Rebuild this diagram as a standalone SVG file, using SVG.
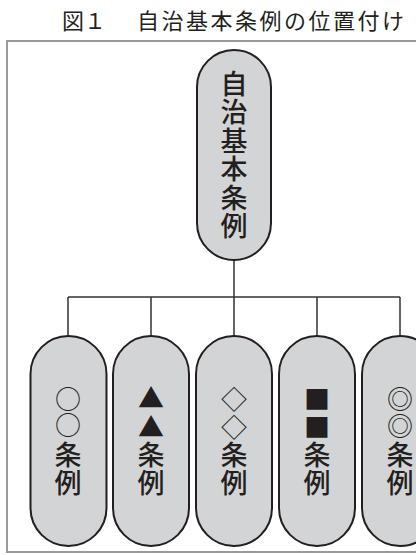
<svg xmlns="http://www.w3.org/2000/svg" width="416" height="555" viewBox="0 0 416 555">
<style>
.pill{fill:#d3d4d6;stroke:#231f20;stroke-width:2}
.lbl{font-family:"Noto Sans CJK JP","Noto Sans CJK SC",sans-serif;font-size:27px;font-weight:500;fill:#231f20;text-anchor:middle;dominant-baseline:central}
.sym{font-family:"Noto Sans CJK JP","Noto Sans CJK SC",sans-serif;font-size:26px;fill:#231f20;text-anchor:middle;dominant-baseline:central}
.title{font-family:"Noto Sans CJK JP","Noto Sans CJK SC",sans-serif;font-size:22px;fill:#231f20}
.conn{stroke:#333;stroke-width:1.5;fill:none}
</style>
<rect width="416" height="555" fill="#fff"/>
<text class="title" x="62" y="29">図１</text>
<text class="title" x="137" y="29" letter-spacing="2.5">自治基本条例の位置付け</text>
<rect x="7" y="41" width="420" height="511" fill="none" stroke="#999" stroke-width="2"/>
<g id="connectors">
<path class="conn" d="M234 260V297M68 297H400M68 297V337M151 297V337M234 297V337M317 297V337M400 297V337"/>
</g>
<g id="top">
<rect class="pill" x="197" y="50" width="74" height="210" rx="37"/>
<text class="lbl" x="234" y="82">自</text>
<text class="lbl" x="234" y="110.5">治</text>
<text class="lbl" x="234" y="139">基</text>
<text class="lbl" x="234" y="167.5">本</text>
<text class="lbl" x="234" y="196">条</text>
<text class="lbl" x="234" y="224.5">例</text>
</g>
<g id="n1">
<rect class="pill" x="30.5" y="336" width="76" height="210" rx="38"/>
<text class="sym" x="68" y="397">○</text>
<text class="sym" x="68" y="423">○</text>
<text class="lbl" x="68" y="453">条</text>
<text class="lbl" x="68" y="481">例</text>
</g>
<g id="n2">
<rect class="pill" x="113" y="336" width="76" height="210" rx="38"/>
<text class="sym" x="151" y="396">▲</text>
<text class="sym" x="151" y="425">▲</text>
<text class="lbl" x="151" y="453">条</text>
<text class="lbl" x="151" y="481">例</text>
</g>
<g id="n3">
<rect class="pill" x="196" y="336" width="76" height="210" rx="38"/>
<text class="sym" x="234" y="397">◇</text>
<text class="sym" x="234" y="425">◇</text>
<text class="lbl" x="234" y="453">条</text>
<text class="lbl" x="234" y="481">例</text>
</g>
<g id="n4">
<rect class="pill" x="279" y="336" width="76" height="210" rx="38"/>
<text class="sym" x="317" y="397">■</text>
<text class="sym" x="317" y="425">■</text>
<text class="lbl" x="317" y="453">条</text>
<text class="lbl" x="317" y="481">例</text>
</g>
<g id="n5">
<rect class="pill" x="362" y="336" width="76" height="210" rx="38"/>
<text class="sym" x="400" y="397">◎</text>
<text class="sym" x="400" y="424">◎</text>
<text class="lbl" x="400" y="453">条</text>
<text class="lbl" x="400" y="481">例</text>
</g>
</svg>
